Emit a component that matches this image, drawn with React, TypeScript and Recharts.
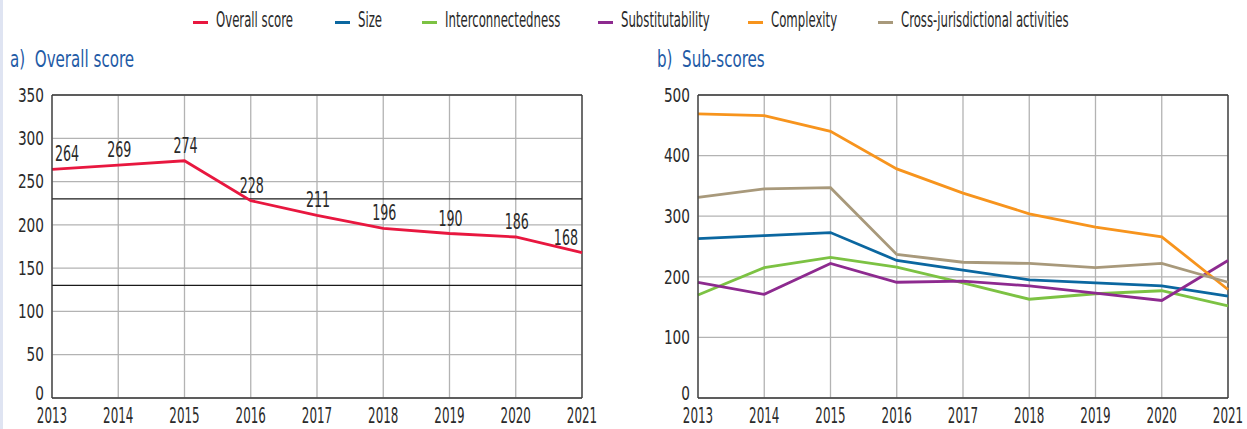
import { LineChart, Line, XAxis, YAxis, CartesianGrid, ReferenceLine, LabelList } from "recharts";

const years = ["2013", "2014", "2015", "2016", "2017", "2018", "2019", "2020", "2021"];

const overallScore = [264, 269, 274, 228, 211, 196, 190, 186, 168];
const size = [263, 268, 273, 227, 211, 195, 190, 185, 168];
const interconnectedness = [170, 215, 232, 216, 190, 163, 172, 177, 152];
const substitutability = [191, 171, 222, 191, 193, 185, 173, 161, 227];
const complexity = [469, 466, 440, 378, 338, 304, 282, 266, 179];
const crossJurisdictional = [331, 345, 347, 237, 224, 222, 215, 222, 191];

const bucketThresholds = [130, 230];
const overallTicks = [0, 50, 100, 150, 200, 250, 300, 350];
const subTicks = [0, 100, 200, 300, 400, 500];

const FONT = '"DejaVu Sans Condensed", "Liberation Sans Narrow", sans-serif';
const TEXT = "#2a2a2a";
const GRID = "#b3b3b3";
const AXIS = "#3a3a3a";
const TITLE = "#1f5ba6";

const overallSeries = { key: "overall", name: "Overall score", color: "#e8173f" };
const subSeries = [
  { key: "size", name: "Size", color: "#0b67a0", values: size },
  { key: "interconnectedness", name: "Interconnectedness", color: "#7cc243", values: interconnectedness },
  { key: "substitutability", name: "Substitutability", color: "#8d2a8f", values: substitutability },
  { key: "complexity", name: "Complexity", color: "#f7941d", values: complexity },
  { key: "crossJurisdictional", name: "Cross-jurisdictional activities", color: "#a8997b", values: crossJurisdictional },
];

const rows = years.map((year, i) => {
  const row: Record<string, string | number> = { year, overall: overallScore[i] };
  subSeries.forEach((s) => (row[s.key] = s.values[i]));
  return row;
});

// the original font is a very narrow one, so squeeze text horizontally around its anchor
const squeeze = (x: number, k: number) => `translate(${x} 0) scale(${k} 1) translate(${-x} 0)`;

const XTick = (props: any) => {
  const { x, y, payload } = props;
  return (
    <text x={x} y={y} dy="0.71em" textAnchor="middle" fill={TEXT} fontSize={21} fontFamily={FONT} transform={squeeze(x, 0.63)}>
      {payload.value}
    </text>
  );
};

const YTick = (props: any) => {
  const { x, y, payload } = props;
  const lift = payload.value === 0 ? -5 : 0;
  return (
    <text x={x} y={y + lift} dy="0.355em" textAnchor="end" fill={TEXT} fontSize={19} fontFamily={FONT} transform={squeeze(x, 0.8)}>
      {payload.value}
    </text>
  );
};

const ScoreLabel = (props: any) => {
  const { x, y, value } = props;
  let index = props.index;
  if (index === undefined) index = overallScore.indexOf(value);
  const last = years.length - 1;
  const anchor = index === 0 ? "start" : index === last ? "end" : "middle";
  const dx = index === 0 ? 3 : index === last ? -4 : 1;
  return (
    <text x={x + dx} y={y - 8} textAnchor={anchor} fill={TEXT} fontSize={21} fontFamily={FONT} transform={squeeze(x + dx, 0.67)}>
      {value}
    </text>
  );
};

const legendItems = [overallSeries, ...subSeries];
const legendLefts = [193, 335, 422, 598, 748, 878];

const squeezedText = (k: number) => ({ display: "inline-block", transform: `scaleX(${k})`, transformOrigin: "left center", whiteSpace: "nowrap" as const });

export default function App() {
  return (
    <div style={{ position: "absolute", left: 0, top: 0, width: 1247, height: 429, background: "#fff", fontFamily: FONT, overflow: "hidden" }}>
      <div style={{ position: "absolute", left: 0, top: 0, width: 3, height: 429, background: "#dfe4f2" }} />

      {legendItems.map((s, i) => (
        <div key={s.key}>
          <span style={{ position: "absolute", left: legendLefts[i], top: 21, width: 15, height: 3, background: s.color }} />
          <span style={{ position: "absolute", left: legendLefts[i] + 23, top: 10, fontSize: 21, lineHeight: "21px", color: TEXT, ...squeezedText(0.62) }}>
            {s.name}
          </span>
        </div>
      ))}

      <div style={{ position: "absolute", left: 10, top: 48, fontSize: 23, lineHeight: "23px", color: TITLE, ...squeezedText(0.73), whiteSpace: "pre" }}>a)  Overall score</div>
      <div style={{ position: "absolute", left: 657, top: 48, fontSize: 23, lineHeight: "23px", color: TITLE, ...squeezedText(0.73), whiteSpace: "pre" }}>b)  Sub-scores</div>

      <div style={{ position: "absolute", left: 0, top: 80 }}>
        <LineChart width={600} height={349} data={rows} margin={{ top: 15, right: 18, bottom: 0, left: 0 }}>
          <CartesianGrid stroke={GRID} strokeWidth={1.3} />
          <XAxis dataKey="year" stroke={AXIS} strokeWidth={1.3} tickLine={false} tickSize={0} tickMargin={10} height={31} tick={<XTick />} interval={0} />
          <YAxis domain={[0, 350]} ticks={overallTicks} stroke={AXIS} strokeWidth={1.3} tickLine={false} tickSize={0} tickMargin={8} width={52} tick={<YTick />} />
          <ReferenceLine y={350} stroke={AXIS} strokeWidth={1.3} />
          <ReferenceLine x="2021" stroke={AXIS} strokeWidth={1.3} />
          {bucketThresholds.map((t) => (
            <ReferenceLine key={t} y={t} stroke="#1a1a1a" strokeWidth={1.2} />
          ))}
          <Line dataKey="overall" name={overallSeries.name} stroke={overallSeries.color} strokeWidth={2.8} dot={false} isAnimationActive={false}>
            <LabelList dataKey="overall" content={ScoreLabel} />
          </Line>
        </LineChart>
      </div>

      <div style={{ position: "absolute", left: 640, top: 80 }}>
        <LineChart width={607} height={349} data={rows} margin={{ top: 15, right: 19, bottom: 0, left: 0 }}>
          <CartesianGrid stroke={GRID} strokeWidth={1.3} />
          <XAxis dataKey="year" stroke={AXIS} strokeWidth={1.3} tickLine={false} tickSize={0} tickMargin={10} height={31} tick={<XTick />} interval={0} />
          <YAxis domain={[0, 500]} ticks={subTicks} stroke={AXIS} strokeWidth={1.3} tickLine={false} tickSize={0} tickMargin={8} width={58} tick={<YTick />} />
          <ReferenceLine y={500} stroke={AXIS} strokeWidth={1.3} />
          <ReferenceLine x="2021" stroke={AXIS} strokeWidth={1.3} />
          {subSeries.map((s) => (
            <Line key={s.key} dataKey={s.key} name={s.name} stroke={s.color} strokeWidth={2.8} dot={false} isAnimationActive={false} />
          ))}
        </LineChart>
      </div>
    </div>
  );
}
